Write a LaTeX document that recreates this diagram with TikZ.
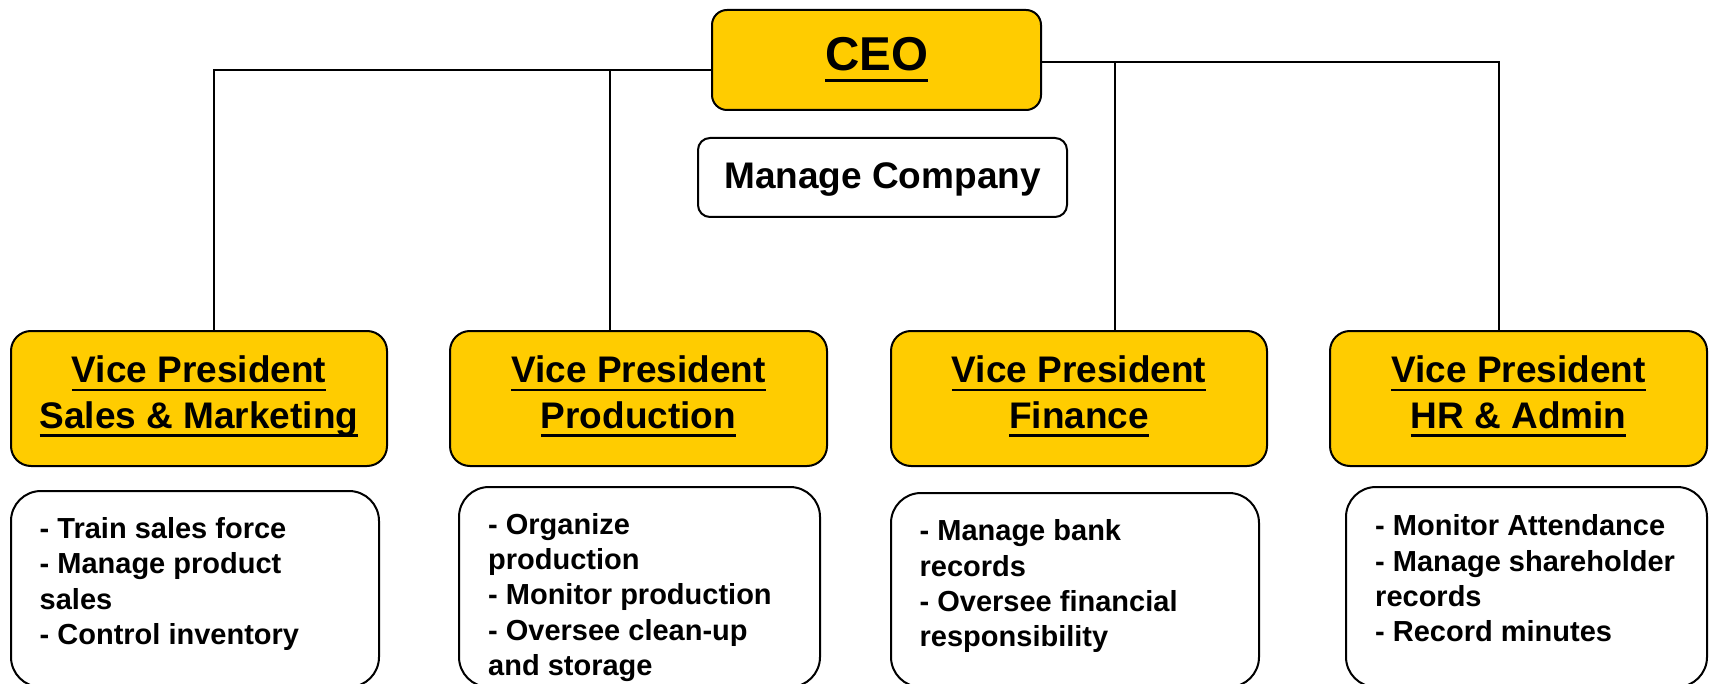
\documentclass[tikz,border=0pt]{standalone}
\usepackage{fontspec}
\setmainfont{Liberation Sans}
\definecolor{vpyellow}{HTML}{FFCC00}
\newsavebox\mybox
\newcommand{\myul}[3]{\sbox\mybox{#3}\rlap{\rule[#1]{\wd\mybox}{#2}}\usebox\mybox}
\newcommand{\vul}[1]{\myul{-8.2pt}{2.3pt}{#1}}
\begin{document}
\begin{tikzpicture}[x=1pt,y=-1pt,
  ybox/.style={draw=black, line width=2pt, fill=vpyellow, rounded corners=#1, inner sep=0pt},
  ybox/.default=20pt,
  wbox/.style={draw=black, line width=2pt, fill=white, rounded corners=#1, inner sep=0pt},
  wbox/.default=30pt,
  conn/.style={line width=1.8pt, draw=black},
  vptext/.style={font=\bfseries\fontsize{37}{45.6}\selectfont, align=center, anchor=base, inner sep=0pt},
  dtext/.style={font=\bfseries\fontsize{29}{35.3}\selectfont, align=left, anchor=base west, inner sep=0pt}]
\useasboundingbox (0,0) rectangle (1712,684);
\clip (0,0) rectangle (1712,684);
\fill[white] (0,0) rectangle (1712,684);

% CEO
\node[ybox=15pt, minimum width=329pt, minimum height=100pt] (ceo) at (876.5,60) {};
\node[font=\bfseries\fontsize{47.5}{57}\selectfont, anchor=base, inner sep=0pt] (ceot) at (876.5,70.7) {\myul{-11pt}{2.7pt}{CEO}};

% Manage Company
\node[wbox=12pt, minimum width=369pt, minimum height=79pt] (mc) at (882.5,177.5) {};
\node[font=\bfseries\fontsize{37}{45}\selectfont, anchor=base, inner sep=0pt] (mct) at (882.5,188.3) {Manage Company};

% VP boxes
\node[ybox, minimum width=376pt, minimum height=135pt] (vp1) at (199,398.5) {};
\node[ybox, minimum width=377pt, minimum height=135pt] (vp2) at (638.5,398.5) {};
\node[ybox, minimum width=376pt, minimum height=135pt] (vp3) at (1079,398.5) {};
\node[ybox, minimum width=377pt, minimum height=135pt] (vp4) at (1518.5,398.5) {};

% (base anchor of a multi-line node = baseline of its last line)
\node[vptext] (vp1t) at (199,428.3) {\vul{Vice President}\\\vul{Sales \& Marketing}};
\node[vptext] (vp2t) at (638.5,428.3) {\vul{Vice President}\\\vul{Production}};
\node[vptext] (vp3t) at (1079,428.3) {\vul{Vice President}\\\vul{Finance}};
\node[vptext] (vp4t) at (1518.5,428.3) {\vul{Vice President}\\\vul{HR \& Admin}};

% Detail boxes
\node[wbox, minimum width=368pt, minimum height=196pt] (d1) at (195,589) {};
\node[wbox, minimum width=361pt, minimum height=200pt] (d2) at (639.5,587) {};
\node[wbox, minimum width=368pt, minimum height=194pt] (d3) at (1075,590) {};
\node[wbox, minimum width=361pt, minimum height=200pt] (d4) at (1526.5,587) {};

\node[dtext] (d1t) at (39.5,644.3) {- Train sales force\\- Manage product\\sales\\- Control inventory};
\node[dtext] (d2t) at (488,675.5) {- Organize\\production\\- Monitor production\\- Oversee clean-up\\and storage};
\node[dtext] (d3t) at (919.5,646.7) {- Manage bank\\records\\- Oversee financial\\responsibility};
\node[dtext] (d4t) at (1375,641.7) {- Monitor Attendance\\- Manage shareholder\\records\\- Record minutes};

% Connectors
\draw[conn] ([yshift=-10pt]ceo.west) -| ([xshift=15pt]vp1.north);
\draw[conn] ([xshift=-28.5pt]vp2.north) |- ([yshift=-10pt]ceo.west);
\draw[conn] ([yshift=-2pt]ceo.east) -| ([xshift=-19.5pt]vp4.north);
\draw[conn] ([xshift=36pt]vp3.north) |- ([yshift=-2pt]ceo.east);
\end{tikzpicture}
\end{document}
